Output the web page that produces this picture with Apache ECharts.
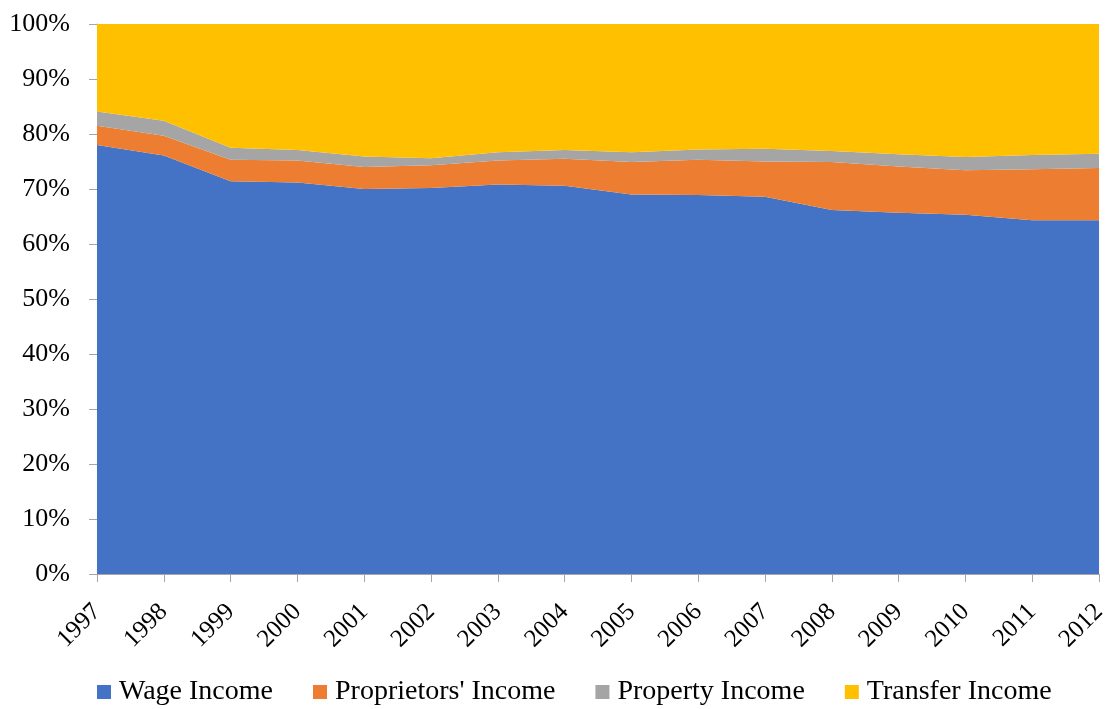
<!DOCTYPE html>
<html>
<head>
<meta charset="utf-8">
<script src="https://cdn.jsdelivr.net/npm/echarts@6/dist/echarts.min.js"></script>
<style>
  html, body { margin: 0; padding: 0; background: #fff; }
  #chart { width: 1110px; height: 709px; }
</style>
</head>
<body>
<div id="chart"></div>
<script>
// Share of personal income by source, 1997–2012 (percent of total)
const years = ['1997','1998','1999','2000','2001','2002','2003','2004','2005','2006','2007','2008','2009','2010','2011','2012'];
const wageIncome        = [78.0, 76.1, 71.4, 71.2, 70.0, 70.2, 70.8, 70.6, 69.0, 68.9, 68.6, 66.2, 65.7, 65.3, 64.3, 64.3];
const proprietorsIncome = [3.5, 3.6, 3.9, 4.0, 4.0, 4.1, 4.4, 4.9, 5.9, 6.4, 6.4, 8.7, 8.4, 8.1, 9.3, 9.5];
const propertyIncome    = [2.6, 2.7, 2.2, 1.9, 1.9, 1.3, 1.5, 1.6, 1.8, 1.9, 2.3, 2.0, 2.2, 2.4, 2.6, 2.6];
const transferIncome    = [15.9, 17.6, 22.5, 22.9, 24.1, 24.4, 23.3, 22.9, 23.3, 22.8, 22.7, 23.1, 23.7, 24.2, 23.8, 23.6];
const yTicks = [0, 10, 20, 30, 40, 50, 60, 70, 80, 90, 100];

const FONT = '"Liberation Serif", "Times New Roman", serif';
const AXIS_GRAY = '#a6a6a6';

function band(name, data, color) {
  return {
    name: name,
    type: 'line',
    stack: 'total',
    data: data,
    symbol: 'none',
    lineStyle: { width: 0 },
    areaStyle: { color: color, opacity: 1 },
    itemStyle: { color: color },
    emphasis: { disabled: true }
  };
}

const chart = echarts.init(document.getElementById('chart'), null, { renderer: 'canvas' });
chart.setOption({
  animation: false,
  backgroundColor: '#fff',
  textStyle: { fontFamily: FONT, color: '#000' },
  grid: { left: 97, right: 10, top: 24, bottom: 135, containLabel: false },
  legend: {
    left: 97,
    bottom: 3,
    padding: 0,
    itemWidth: 14,
    itemHeight: 14,
    itemGap: 40,
    icon: 'rect',
    textStyle: { fontFamily: FONT, fontSize: 28, color: '#000', padding: [0, 0, 0, 3] },
    data: ['Wage Income', "Proprietors' Income", 'Property Income', 'Transfer Income']
  },
  xAxis: {
    type: 'category',
    boundaryGap: false,
    data: years,
    axisLine: { show: true, lineStyle: { color: AXIS_GRAY, width: 1 } },
    axisTick: { show: true, alignWithLabel: true, length: 8, lineStyle: { color: AXIS_GRAY } },
    axisLabel: { rotate: 45, margin: 34, fontFamily: FONT, fontSize: 25, color: '#000', interval: 0 },
    splitLine: { show: false }
  },
  yAxis: {
    type: 'value',
    min: yTicks[0],
    max: yTicks[yTicks.length - 1],
    interval: 10,
    axisLine: { show: true, lineStyle: { color: AXIS_GRAY, width: 1 } },
    axisTick: { show: true, length: 8, lineStyle: { color: AXIS_GRAY } },
    axisLabel: { formatter: '{value}%', margin: 27, fontFamily: FONT, fontSize: 26, color: '#000' },
    splitLine: { show: false }
  },
  series: [
    band('Wage Income', wageIncome, '#4472C4'),
    band("Proprietors' Income", proprietorsIncome, '#ED7D31'),
    band('Property Income', propertyIncome, '#A5A5A5'),
    band('Transfer Income', transferIncome, '#FFC000')
  ]
});
</script>
</body>
</html>
